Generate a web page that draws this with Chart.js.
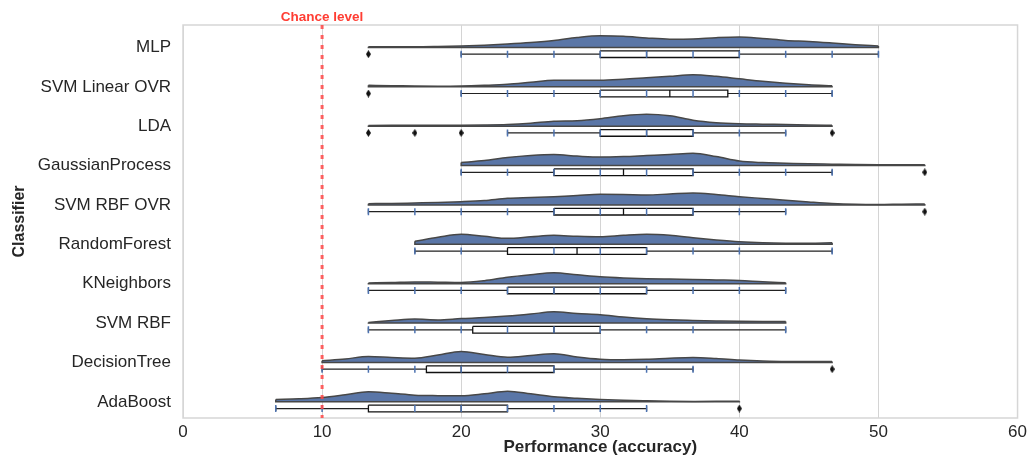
<!DOCTYPE html>
<html>
<head>
<meta charset="utf-8">
<script src="https://cdn.jsdelivr.net/npm/chart.js@4.4.1/dist/chart.umd.min.js"></script>
<style>
  html, body { margin: 0; padding: 0; background: #fff; }
</style>
</head>
<body>
<canvas id="chart" width="1031" height="460"></canvas>
<script>
const classifiers = ['MLP', 'SVM Linear OVR', 'LDA', 'GaussianProcess', 'SVM RBF OVR',
    'RandomForest', 'KNeighbors', 'SVM RBF', 'DecisionTree', 'AdaBoost'];
const xTicks = [0, 10, 20, 30, 40, 50, 60];
const chanceLevel = 10;

// box plot stats (accuracy, %)
const whiskerLow = [20, 20, 23.33, 20, 13.33, 16.67, 13.33, 13.33, 10, 6.67];
const quartile1 = [30, 30, 30, 26.67, 26.67, 23.33, 23.33, 20.83, 17.5, 13.33];
const medians = [33.33, 35, 33.33, 31.67, 31.67, 28.33, 26.67, 26.67, 20, 20];
const quartile3 = [40, 39.17, 36.67, 36.67, 36.67, 33.33, 33.33, 30, 26.67, 23.33];
const whiskerHigh = [50, 46.67, 43.33, 46.67, 43.33, 46.67, 43.33, 43.33, 36.67, 33.33];
const outliers = [[13.33], [13.33], [13.33, 16.67, 20, 46.67], [53.33], [53.33], [], [], [], [46.67], [40]];

// distinct scores seen in the strip
const scores = [
    [20, 23.33, 26.67, 30, 33.33, 36.67, 40, 43.33, 46.67, 50],
    [20, 23.33, 26.67, 30, 33.33, 36.67, 40, 43.33, 46.67],
    [23.33, 26.67, 30, 33.33, 36.67, 40, 43.33],
    [20, 23.33, 26.67, 30, 33.33, 36.67, 40, 43.33, 46.67],
    [13.33, 16.67, 20, 23.33, 26.67, 30, 33.33, 36.67, 40, 43.33],
    [16.67, 20, 26.67, 30, 33.33, 36.67, 40, 46.67],
    [13.33, 16.67, 20, 23.33, 26.67, 30, 33.33, 36.67, 40, 43.33],
    [13.33, 16.67, 20, 23.33, 26.67, 30, 33.33, 36.67, 43.33],
    [10, 13.33, 16.67, 20, 23.33, 26.67, 33.33, 36.67],
    [6.67, 10, 16.67, 20, 23.33, 26.67, 30, 33.33]
];

// half-violin density heights, sampled every 5/3 points from densityStart
const densityStart = [13.33, 13.33, 13.33, 20, 13.33, 16.67, 13.33, 13.33, 10, 6.67];
const densityStep = 5 / 3;
const density = [
    [0.8, 0.8, 0.7, 1, 1.5, 2.3, 3.5, 5, 7, 10, 11.7, 11.2, 9.5, 8.3, 8.5, 9.8, 10.5, 9, 7, 6, 4.5, 2.8, 1.5],
    [1.5, 1.2, 0.8, 0.6, 0.8, 1.5, 2.5, 4.5, 6.5, 6.5, 6.5, 7.5, 9, 10.5, 12, 10.5, 8, 5.5, 3.5, 2, 1],
    [0.8, 0.9, 1, 1, 1, 1.2, 1.7, 3, 5, 5.5, 7.5, 10.5, 12, 10.5, 6, 3.5, 2.4, 2, 1.7, 1.3, 1],
    [3, 5, 8, 10, 11, 9.5, 8.5, 9, 10, 11, 12.3, 9, 4.5, 3, 2.4, 1.8, 1.4, 1, 0.8, 0.8, 0.8],
    [1.3, 1.5, 2, 2.5, 3.3, 4.5, 6.7, 7.5, 8.3, 9.5, 10.7, 10.5, 10, 11, 12, 10.5, 8.3, 6.5, 4.7, 3, 1.5, 0.7, 0.5, 0.8, 1],
    [3, 7, 10, 8, 6, 7.5, 9, 8, 7.5, 9, 10, 9, 6.5, 4.3, 2.5, 1.5, 1.2, 1.2, 1.5],
    [0.7, 1.2, 1.8, 1.5, 1.2, 3, 6.5, 9, 11, 9, 7, 5.8, 5, 4.6, 4.3, 3.8, 3.3, 2, 1],
    [0.7, 2.5, 4, 3.2, 4.5, 5.5, 7, 9, 11.3, 9.5, 8.3, 6, 4.3, 3.3, 2.7, 2.2, 1.8, 1.7, 1.7],
    [1.7, 3.5, 6, 5, 4.3, 7.5, 11, 8, 5.3, 7, 8.7, 5.5, 3.3, 2.8, 3.2, 4.3, 5, 4, 2.5, 1.5, 1, 1, 1],
    [2.3, 3, 4.3, 7, 10, 8.5, 6.7, 6.2, 6, 8, 10.7, 8, 5, 3.5, 2.3, 1.5, 1, 0.6, 0.4, 0.5, 0.7]
];

const FONT = '"Liberation Sans", Arial, sans-serif';
const Y_MIN = -0.57, Y_MAX = 9.41;
const ROW_PX = 39.4;      // px per row, turns density heights into y units
const BOX_SHIFT = 0.17;
const BOX_HALF = 0.085;
const CAP_HALF = 0.06;
const gap = () => ({x: null, y: null});

const violins = density.map((row, i) => ({
    data: row.map((h, k) => ({x: densityStart[i] + k * densityStep, y: i - h / ROW_PX})),
    showLine: true,
    fill: {value: i},
    backgroundColor: '#5a76a7',
    borderColor: '#474747',
    borderWidth: 1.5,
    pointRadius: 0,
    cubicInterpolationMode: 'monotone',
    order: 5
}));

const edges = [];
density.forEach((row, i) => {
    const a = densityStart[i];
    const b = a + (row.length - 1) * densityStep;
    edges.push({x: a, y: i - row[0] / ROW_PX}, {x: a, y: i}, {x: b, y: i},
        {x: b, y: i - row[row.length - 1] / ROW_PX}, gap());
});

const boxes = [];
const whiskers = [];
const strip = [];
const fliers = [];
classifiers.forEach((c, i) => {
    const yc = i + BOX_SHIFT, yt = yc - BOX_HALF, yb = yc + BOX_HALF;
    boxes.push({x: quartile1[i], y: yt}, {x: quartile3[i], y: yt}, {x: quartile3[i], y: yb},
        {x: quartile1[i], y: yb}, {x: quartile1[i], y: yt}, gap(),
        {x: medians[i], y: yt}, {x: medians[i], y: yb}, gap());
    whiskers.push({x: whiskerLow[i], y: yc}, {x: quartile1[i], y: yc}, gap(),
        {x: quartile3[i], y: yc}, {x: whiskerHigh[i], y: yc}, gap(),
        {x: whiskerLow[i], y: yc - CAP_HALF}, {x: whiskerLow[i], y: yc + CAP_HALF}, gap(),
        {x: whiskerHigh[i], y: yc - CAP_HALF}, {x: whiskerHigh[i], y: yc + CAP_HALF}, gap());
    scores[i].forEach(v => strip.push({x: v, y: yc}));
    outliers[i].forEach(v => fliers.push({x: v, y: yc}));
});

// thin diamond marker for outliers
const diamond = document.createElement('canvas');
diamond.width = 5;
diamond.height = 8;
const dctx = diamond.getContext('2d');
dctx.fillStyle = '#111';
dctx.beginPath();
dctx.moveTo(2.5, 0);
dctx.lineTo(5, 4);
dctx.lineTo(2.5, 8);
dctx.lineTo(0, 4);
dctx.closePath();
dctx.fill();

const framePlugin = {
    id: 'frame',
    beforeDatasetsDraw(chart) {
        const {ctx, chartArea: a} = chart;
        ctx.save();
        ctx.strokeStyle = '#d6d6d6';
        ctx.lineWidth = 1.5;
        ctx.strokeRect(a.left, a.top, a.right - a.left, a.bottom - a.top);
        ctx.restore();
    }
};

const chanceLabel = {
    id: 'chanceLabel',
    afterDraw(chart) {
        const {ctx, chartArea, scales} = chart;
        ctx.save();
        ctx.font = 'bold 13.5px ' + FONT;
        ctx.fillStyle = '#ff3d33';
        ctx.textAlign = 'center';
        ctx.textBaseline = 'middle';
        ctx.fillText('Chance level', scales.x.getPixelForValue(chanceLevel), chartArea.top - 8);
        ctx.restore();
    }
};

new Chart(document.getElementById('chart'), {
    type: 'scatter',
    data: {
        datasets: [
            ...violins,
            {data: edges, showLine: true, borderColor: '#474747', borderWidth: 1.5, pointRadius: 0, tension: 0, order: 4},
            {data: boxes, showLine: true, borderColor: '#111', borderWidth: 1.3, pointRadius: 0, tension: 0, order: 3},
            {data: whiskers, showLine: true, borderColor: '#222', borderWidth: 1.2, pointRadius: 0, tension: 0, order: 3},
            {data: strip, pointStyle: 'line', rotation: 90, pointRadius: 3.5, pointBorderWidth: 1.5,
                pointBorderColor: '#4c72b0', pointBackgroundColor: '#4c72b0', order: 2},
            {data: fliers, pointStyle: diamond, pointRadius: 4, order: 1},
            {data: [{x: chanceLevel, y: Y_MIN}, {x: chanceLevel, y: Y_MAX}], showLine: true,
                borderColor: 'rgba(255, 70, 70, 0.85)', borderWidth: 3, borderDash: [4, 6],
                pointRadius: 0, order: 0}
        ]
    },
    options: {
        responsive: false,
        animation: false,
        layout: {padding: {top: 25, right: 11, left: 0, bottom: 0}},
        plugins: {legend: {display: false}, tooltip: {enabled: false}},
        scales: {
            x: {
                type: 'linear', min: 0, max: 60,
                afterBuildTicks: s => { s.ticks = xTicks.map(v => ({value: v})); },
                afterFit: s => { s.height = 42; },
                grid: {color: '#d4d4d4', lineWidth: 1, drawTicks: false},
                border: {display: false},
                ticks: {font: {size: 17, family: FONT}, color: '#262626', padding: 4},
                title: {display: true, text: 'Performance (accuracy)', color: '#262626',
                    font: {size: 17, weight: 'bold', family: FONT}, padding: {top: 0, bottom: 2}}
            },
            y: {
                type: 'linear', reverse: true, min: Y_MIN, max: Y_MAX,
                afterBuildTicks: s => { s.ticks = classifiers.map((c, i) => ({value: i})); },
                afterFit: s => { s.width = 183; },
                grid: {display: false},
                border: {display: false},
                ticks: {callback: v => classifiers[v], autoSkip: false, font: {size: 17, family: FONT},
                    color: '#262626', padding: 4},
                title: {display: true, text: 'Classifier', color: '#262626',
                    font: {size: 16, weight: 'bold', family: FONT}, padding: {top: 10, bottom: 0}}
            }
        }
    },
    plugins: [framePlugin, chanceLabel]
});
</script>
</body>
</html>
